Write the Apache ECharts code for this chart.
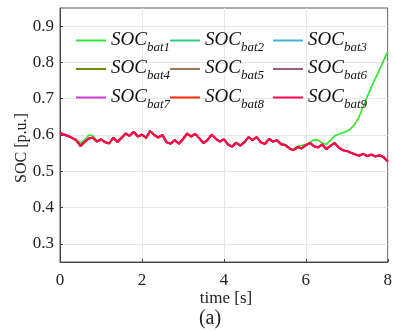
<!DOCTYPE html>
<html><head><meta charset="utf-8">
<script src="https://cdn.jsdelivr.net/npm/echarts@6/dist/echarts.min.js"></script>
<style>html,body{margin:0;padding:0;background:#fff}#c{width:395px;height:331px}</style>
</head><body><div id="c"></div>
<script>
var times = [0,0.1,0.2,0.3,0.4,0.5,0.6,0.7,0.8,0.9,1,1.1,1.2,1.3,1.4,1.5,1.6,1.7,1.8,1.9,2,2.1,2.2,2.3,2.4,2.5,2.6,2.7,2.8,2.9,3,3.1,3.2,3.3,3.4,3.5,3.6,3.7,3.8,3.9,4,4.1,4.2,4.3,4.4,4.5,4.6,4.7,4.8,4.9,5,5.1,5.2,5.3,5.4,5.5,5.6,5.7,5.8,5.9,6,6.1,6.2,6.3,6.4,6.5,6.6,6.7,6.8,6.9,7,7.1,7.2,7.3,7.4,7.5,7.6,7.7,7.8,7.9,8];
var socCommon = [0.606,0.601,0.597,0.592,0.585,0.570,0.581,0.590,0.593,0.582,0.588,0.580,0.577,0.592,0.581,0.592,0.604,0.598,0.609,0.596,0.601,0.592,0.611,0.600,0.593,0.600,0.580,0.576,0.586,0.576,0.588,0.604,0.596,0.603,0.591,0.578,0.586,0.601,0.590,0.582,0.588,0.574,0.568,0.579,0.571,0.580,0.594,0.586,0.594,0.580,0.575,0.589,0.582,0.585,0.574,0.572,0.563,0.558,0.567,0.563,0.572,0.578,0.569,0.566,0.574,0.561,0.570,0.578,0.566,0.558,0.556,0.551,0.547,0.543,0.548,0.542,0.546,0.541,0.544,0.539,0.527];
var socBat1 = [0.606,0.601,0.597,0.592,0.588,0.578,0.586,0.600,0.598,0.584,0.588,0.580,0.577,0.594,0.581,0.592,0.604,0.598,0.609,0.596,0.601,0.592,0.611,0.600,0.593,0.600,0.580,0.576,0.586,0.576,0.588,0.604,0.596,0.603,0.591,0.578,0.586,0.601,0.590,0.582,0.588,0.574,0.568,0.579,0.571,0.580,0.594,0.586,0.594,0.580,0.575,0.589,0.582,0.586,0.578,0.574,0.565,0.560,0.569,0.571,0.574,0.580,0.587,0.586,0.578,0.574,0.585,0.597,0.602,0.606,0.610,0.618,0.630,0.650,0.678,0.706,0.732,0.757,0.780,0.805,0.830];
var seriesNames = ['bat1','bat2','bat3','bat4','bat5','bat6','bat7','bat8','bat9'];
var seriesColors = ['#33e633','#2ecc7a','#4aaed0','#6e8c0a','#9b7a52','#a05a7d','#d23fd2','#ff2a00','#ff0a4a'];
var seriesValues = [socBat1, socCommon, socCommon, socCommon, socCommon, socCommon, socCommon, socCommon, socCommon];
var xTicks = [0,2,4,6,8];
var yTicks = [0.3,0.4,0.5,0.6,0.7,0.8,0.9];

var FONT = 'Liberation Serif';
var chart = echarts.init(document.getElementById('c'), null, {renderer:'canvas'});
var series = seriesNames.map(function(n,i){
  return {
    name: n, type: 'line', showSymbol: false, symbol: 'none',
    data: times.map(function(t,k){return [t, seriesValues[i][k]];}),
    lineStyle: {color: seriesColors[i], width: i===8 ? 2.2 : 1.7},
    itemStyle: {color: seriesColors[i]},
    z: 2 + i, animation: false
  };
});
function legendFor(names, left){
  return {
    orient: 'vertical', left: left, top: 27, itemGap: 1.5, padding: 0,
    itemWidth: 30, itemHeight: 2, icon: 'rect',
    data: names, selectedMode: false,
    formatter: function(n){ return '{s|SOC}{b|' + n + '}'; },
    textStyle: {
      rich: {
        s: {fontFamily: FONT, fontStyle: 'italic', fontSize: 19, color: '#111', lineHeight: 22, padding: [0,0,2,0]},
        b: {fontFamily: FONT, fontStyle: 'italic', fontSize: 13, color: '#111', padding: [14,0,0,0], lineHeight: 22}
      }
    }
  };
}
chart.setOption({
  animation: false,
  backgroundColor: '#fff',
  grid: {left: 60, right: 3, top: 8, bottom: 69, show: true, borderColor: '#555', borderWidth: 1, backgroundColor: 'transparent'},
  legend: [
    legendFor(['bat1','bat4','bat7'], 76),
    legendFor(['bat2','bat5','bat8'], 170),
    legendFor(['bat3','bat6','bat9'], 273)
  ],
  xAxis: {
    type: 'value', min: 0, max: 8, interval: 2,
    axisLine: {show: true, lineStyle: {color: '#444'}},
    axisTick: {show: true, inside: true, length: 3, lineStyle: {color: '#444'}},
    splitLine: {show: true, lineStyle: {color: '#e6e6e6'}},
    axisLabel: {fontFamily: FONT, fontSize: 17, color: '#222', margin: 10,
      customValues: xTicks}
  },
  yAxis: {
    type: 'value', min: 0.25, max: 0.95,
    axisLine: {show: true, lineStyle: {color: '#444'}},
    axisTick: {show: true, inside: true, length: 3, lineStyle: {color: '#444'}, customValues: yTicks},
    splitLine: {show: true, lineStyle: {color: '#e6e6e6'}},
    axisLabel: {fontFamily: FONT, fontSize: 17, color: '#222', margin: 6,
      customValues: yTicks, formatter: function(v){return v.toFixed(1);}}
  },
  graphic: [
    {type: 'text', x: 22, y: 148, rotation: Math.PI/2, style: {text: 'SOC [p.u.]', font: '16px "Liberation Serif"', fill: '#222', x: 0, y: 0, textAlign: 'center', textVerticalAlign: 'middle'}},
    {type: 'text', style: {text: 'time [s]', font: '17px "Liberation Serif"', fill: '#222', x: 226, y: 299, textAlign: 'center', textVerticalAlign: 'middle'}},
    {type: 'text', style: {text: '(a)', font: '20px "Liberation Serif"', fill: '#222', x: 210, y: 319, textAlign: 'center', textVerticalAlign: 'middle'}}
  ],
  series: series
});
</script></body></html>
